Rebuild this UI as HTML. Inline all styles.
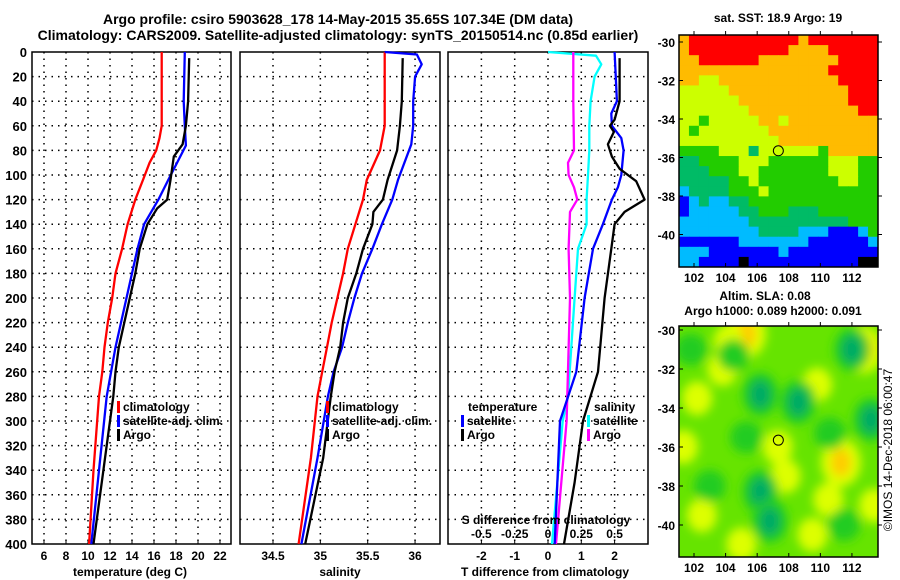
<!DOCTYPE html>
<html><head><meta charset="utf-8"><style>
body{margin:0;background:#fff}
svg{display:block;font-family:"Liberation Sans",sans-serif;font-weight:bold}
</style></head><body>
<svg id="chart" width="900" height="580" xmlns="http://www.w3.org/2000/svg">
<text x="338" y="24" font-size="14" text-anchor="middle">Argo profile: csiro 5903628_178 14-May-2015 35.65S 107.34E (DM data)</text>
<text x="338" y="40" font-size="14" text-anchor="middle">Climatology: CARS2009. Satellite-adjusted climatology: synTS_20150514.nc (0.85d earlier)</text>
<g id="g"></g>
<text transform="translate(892,450) rotate(-90)" font-size="12" font-weight="normal" text-anchor="middle">©IMOS 14-Dec-2018 06:00:47</text>
</svg>
<script>
// ---- data ----
const depthTicks=[0,20,40,60,80,100,120,140,160,180,200,220,240,260,280,300,320,340,360,380,400];
const tempTicks=[6,8,10,12,14,16,18,20,22];
const salTicks=[34.5,35,35.5,36];
const tdiffTicks=[-2,-1,0,1,2];
const sdiffTicks=[-0.5,-0.25,0,0.25,0.5];
const sdiffLabels=["-0.5","-0.25","0","0.25","0.5"];
const tClimDepth=[0,60,70,80,90,104,120,140,160,180,200,220,240,260,280,340,400];
const tClimVal=[16.7,16.7,16.5,16.2,15.6,15.0,14.3,13.6,13.1,12.5,12.2,11.8,11.5,11.3,11.0,10.5,10.1];
const tSatDepth=[0,40,60,76,104,120,140,160,180,200,220,240,260,280,340,400];
const tSatVal=[18.8,18.7,18.8,18.9,17.3,16.4,15.1,14.5,14.0,13.5,13.0,12.5,12.1,11.7,11.0,10.3];
const tArgoDepth=[5,40,60,75,85,104,120,127,140,160,180,200,220,240,260,280,340,400];
const tArgoVal=[19.2,19.1,18.9,18.6,17.8,17.5,17.2,16.3,15.4,14.7,14.3,13.8,13.3,12.8,12.5,12.3,11.4,10.5];
const sClimDepth=[0,60,80,104,120,140,160,180,200,220,240,260,280,330,400];
const sClimVal=[35.68,35.68,35.63,35.49,35.45,35.37,35.29,35.24,35.18,35.12,35.07,35.02,34.97,34.9,34.77];
const sSatDepth=[0,2,10,20,40,60,75,104,120,140,160,180,200,220,240,260,280,330,400];
const sSatVal=[35.68,36.02,36.07,36.0,35.98,35.98,35.96,35.82,35.76,35.65,35.55,35.44,35.36,35.29,35.23,35.14,35.08,34.97,34.8];
const sArgoDepth=[5,40,60,80,104,120,130,140,160,180,200,220,240,260,280,330,400];
const sArgoVal=[35.87,35.86,35.84,35.81,35.71,35.66,35.56,35.55,35.45,35.38,35.29,35.24,35.21,35.15,35.11,35.03,34.84];
const dSsatDepth=[0,3,10,20,40,60,80,100,120,140,160,200,280,300,400];
const dSsatVal=[0,0.36,0.40,0.35,0.32,0.31,0.31,0.30,0.29,0.29,0.225,0.2,0.15,0.11,0.03];
const dSargoDepth=[0,40,80,90,100,110,120,130,160,200,300,400];
const dSargoVal=[0.19,0.19,0.195,0.15,0.155,0.195,0.22,0.165,0.155,0.165,0.14,0.06];
const dTsatDepth=[0,40,50,60,70,80,100,110,120,140,160,200,260,300,400];
const dTsatVal=[2.0,2.07,1.9,1.92,2.2,2.27,2.2,2.1,1.92,1.65,1.35,1.1,0.85,0.36,0.2];
const dTargoDepth=[5,40,55,60,65,75,85,95,105,120,130,140,160,200,260,300,350,400];
const dTargoVal=[2.15,2.15,2.0,1.86,1.98,1.8,1.92,2.15,2.65,2.9,2.3,2.0,1.9,1.7,1.5,1.05,0.8,0.48];
const sstRows=[
"ORRRRRRRRRRRORRRRRRR","ORRRRRRRRRROOOORRRRR","OORRRRRROOOOOOOORRRR","OOOOOOOOOOOOOOORRRRR",
"OOYYOOOOOOOOOOOORRRR","YYYYYOOOOOOOOOOOORRR","YYYYYYOOOOOOOOOOORRR","YYYYYYYOOOOOOOOOOORR",
"YYGYYYYYOOYOOOOOOOOO","YGYYYYYYYOOOOOOOOOOO","YYYYYYYYYYOOOOOOOOOO","GGGGYYYTYYYYYYGOOOOO",
"TTGGGGYYYGGGGGGYYYGG","TTTGGGYYGGGGGGGYYYGG","TTTTTGGYGGGGGGGGYYGG","CTTTTGGGYGGGGGGGGGGG",
"BCTCCTTGGGGGGGGGGGGG","BCCCCCTTGGGTTTGGGGGG","CCCCCCCTTTTTTTTTTGGG","CCCCCCCCTTTTCCCBBBCG",
"BBBBBBCCCCCCCBBBBBBC","CCCBBBBBBBCBBBBBBBBB","CCBBBBKBBBBBBBBBBBKK"];
const slaBlobLon=[105.3,112.7,111.3,107.3,107.8,109.8,102.2,103.8,104.2,101.3,110.5,102.5,105,113.4,109.5,106.2,106.8,106.2,108.6,112,113.2,110.6,103,105.3,101.8,111.5,104.5];
const slaBlobLat=[-30.2,-31,-36.8,-36,-37.5,-32.8,-33.5,-32,-30.6,-36,-38.7,-39.5,-41,-39,-40.5,-38.3,-39.8,-33.3,-33.7,-31,-34.6,-35.3,-38,-35.5,-31,-40,-31.3];
const slaBlobType=["o","o","o","y","y","y","y","y","y","y","y","y","y","y","y","t","t","t","t","t","t","d","d","d","d","d","d"];
const lonTicks=[102,104,106,108,110,112];
const latTicks=[-30,-32,-34,-36,-38,-40];
const argoLon=107.34, argoLat=-35.65;

// ---- drawing ----
const NS="http://www.w3.org/2000/svg";
const G=document.getElementById('g');
function el(t,a,p){const e=document.createElementNS(NS,t);for(const k in a)e.setAttribute(k,a[k]);(p||G).appendChild(e);return e;}
function txt(x,y,s,a,size,anchor){const e=el('text',{x:x,y:y,'font-size':size||12,'text-anchor':anchor||'middle'});e.textContent=s;return e;}
const Y0=52,Y1=544;
const yD=d=>Y0+d*(Y1-Y0)/400;
const panels=[
 {x0:32,x1:231,sx:v=>44+(v-6)*11,ticks:tempTicks,name:'temperature-panel'},
 {x0:240,x1:440,sx:v=>273+(v-34.5)*94.7,ticks:salTicks,name:'salinity-panel'},
 {x0:448,x1:648,sx:v=>548+v*33.3,ticks:tdiffTicks,name:'difference-panel'}];
panels.forEach((p,i)=>{
  const g=el('g',{});
  
  
  depthTicks.forEach(d=>{ if(d>0&&d<400) el('line',{x1:p.x0,x2:p.x1,y1:yD(d),y2:yD(d),stroke:'#000','stroke-width':1.5,'stroke-dasharray':'1.5,5'},g);});
  p.ticks.forEach(v=>{const x=p.sx(v); el('line',{x1:x,x2:x,y1:Y0,y2:Y1,stroke:'#000','stroke-width':1.5,'stroke-dasharray':'1.5,5'},g);
    el('line',{x1:x,x2:x,y1:Y1,y2:Y1-4,stroke:'#000'},g);});
  el('rect',{x:p.x0,y:Y0,width:p.x1-p.x0,height:Y1-Y0,fill:'none',stroke:'#000','stroke-width':1.5},g);
  p.g=g;
});
depthTicks.forEach(d=>{txt(27,yD(d)+5,String(d),{},13,'end');});
tempTicks.forEach(v=>txt(panels[0].sx(v),560,String(v),{},12));
salTicks.forEach(v=>txt(panels[1].sx(v),560,String(v),{},12));
tdiffTicks.forEach(v=>txt(panels[2].sx(v),560,String(v),{},12));
sdiffTicks.forEach((v,i)=>txt(548+v*133.2,538,sdiffLabels[i],{},12));
let t1=txt(130,576,'temperature (deg C)',{},12);
let t2=txt(340,576,'salinity',{},12);
let t3=txt(545,576,'T difference from climatology',{},12);
let t4=txt(546,524,'S difference from climatology',{},12);

function line(p,dep,val,col,name,sx){
  const f=sx||p.sx;
  const pts=dep.map((d,i)=>f(val[i]).toFixed(1)+','+yD(d).toFixed(1)).join(' ');
  const e=el('polyline',{points:pts,fill:'none',stroke:col,'stroke-width':2.3,'stroke-linejoin':'round'},p.g);
  
  
}
line(panels[0],tClimDepth,tClimVal,'#f00','temp-climatology-line');
line(panels[0],tSatDepth,tSatVal,'#00f','temp-satellite-line');
line(panels[0],tArgoDepth,tArgoVal,'#000','temp-argo-line');
line(panels[1],sClimDepth,sClimVal,'#f00','sal-climatology-line');
line(panels[1],sSatDepth,sSatVal,'#00f','sal-satellite-line');
line(panels[1],sArgoDepth,sArgoVal,'#000','sal-argo-line');
const sdx=v=>548+v*133.2;
line(panels[2],dSsatDepth,dSsatVal,'#0ff','sdiff-satellite-line',sdx);
line(panels[2],dSargoDepth,dSargoVal,'#f0f','sdiff-argo-line',sdx);
line(panels[2],dTsatDepth,dTsatVal,'#00f','tdiff-satellite-line');
line(panels[2],dTargoDepth,dTargoVal,'#000','tdiff-argo-line');

function legend(x,y,items,name){
  const g=el('g',{});
  
  
  items.forEach((it,i)=>{const yy=y+i*14;
    if(it[1]) el('rect',{x:x,y:yy-10,width:3,height:12,fill:it[1]},g);
    const t=el('text',{x:x+(it[1]?6:0),y:yy,'font-size':12},g);t.textContent=it[0];});
}
legend(117,411,[['climatology','#f00'],['satellite-adj. clim.','#00f'],['Argo','#000']],'temp-legend');
legend(326,411,[['climatology','#f00'],['satellite-adj. clim.','#00f'],['Argo','#000']],'sal-legend');
legend(468,411,[['temperature',null]],'tdiff-legend-title');
legend(461,425,[['satellite','#00f'],['Argo','#000']],'tdiff-legend');
legend(594,411,[['salinity',null]],'sdiff-legend-title');
legend(587,425,[['satellite','#0ff'],['Argo','#f0f']],'sdiff-legend');

// maps
const MX0=679,MX1=878;
const mx=lon=>MX0+(lon-101.05)*(MX1-MX0)/12.6;
function mapAxes(g,my,top,bot){
  el('rect',{x:MX0,y:top,width:MX1-MX0,height:bot-top,fill:'none',stroke:'#000','stroke-width':1.5},g);
  lonTicks.forEach(v=>{el('line',{x1:mx(v),x2:mx(v),y1:bot,y2:bot-4,stroke:'#000'},g);el('line',{x1:mx(v),x2:mx(v),y1:top,y2:top-4,stroke:'#000'},g);
    const t=el('text',{x:mx(v),y:bot+15,'font-size':12,'text-anchor':'middle'},g);t.textContent=String(v);});
  latTicks.forEach(v=>{el('line',{x1:MX0,x2:MX0+4,y1:my(v),y2:my(v),stroke:'#000'},g);el('line',{x1:MX1,x2:MX1+4,y1:my(v),y2:my(v),stroke:'#000'},g);
    const t=el('text',{x:MX0-4,y:my(v)+5,'font-size':12,'text-anchor':'end'},g);t.textContent=String(v);});
  el('circle',{cx:mx(argoLon),cy:my(argoLat),r:5,fill:'none',stroke:'#000'},g);
}
const sstCol={R:'#ff0000',O:'#ffbb00',Y:'#ccff00',G:'#22cc00',T:'#00bb66',C:'#00bbff',B:'#0000ff',K:'#000000'};
const m1=el('g',{});


const S_TOP=35,S_BOT=267;
const cw=(MX1-MX0)/20, ch=(S_BOT-S_TOP)/sstRows.length;
sstRows.forEach((r,i)=>{for(let j=0;j<r.length;j++){el('rect',{x:MX0+j*cw,y:S_TOP+i*ch,width:cw+0.5,height:ch+0.5,fill:sstCol[r[j]]},m1);}});
mapAxes(m1,lat=>42+(lat+30)*-19.25,S_TOP,S_BOT);
txt(778,22,'sat. SST: 18.9 Argo: 19',{},12);

const m2=el('g',{});


const A_TOP=326,A_BOT=557;
const my2=lat=>330+(lat+30)*-19.5;
const defs=el('defs',{},m2);
const f=el('filter',{id:'bl',x:'-50%',y:'-50%',width:'200%',height:'200%'},defs);
el('feGaussianBlur',{stdDeviation:5},f);
const cp=el('clipPath',{id:'cp'},defs);
el('rect',{x:MX0,y:A_TOP,width:MX1-MX0,height:A_BOT-A_TOP},cp);
const inner=el('g',{'clip-path':'url(#cp)'},m2);
el('rect',{x:MX0,y:A_TOP,width:MX1-MX0,height:A_BOT-A_TOP,fill:'#66e400'},inner);
const bc={o:'#ffcc00',y:'#ddff00',t:'#00aa66',d:'#22cc22'};
const bsz={o:[10,14],y:[15,17],t:[10,14],d:[16,16]};
const bg=el('g',{filter:'url(#bl)'},inner);
slaBlobLon.forEach((lon,i)=>{const t=slaBlobType[i];
  const cx=mx(lon), cy=my2(slaBlobLat[i]);
  if(t=='o') el('ellipse',{cx:cx,cy:cy,rx:20,ry:24,fill:'#ddff00'},bg);
  if(t=='t') el('ellipse',{cx:cx,cy:cy,rx:18,ry:22,fill:'#22cc22'},bg);
  el('ellipse',{cx:cx,cy:cy,rx:bsz[t][0],ry:bsz[t][1],fill:bc[t]},bg);
});
mapAxes(m2,my2,A_TOP,A_BOT);
txt(765,300,'Altim. SLA: 0.08',{},12);
txt(773,315,'Argo h1000: 0.089 h2000: 0.091',{},12);
</script>
</body></html>
